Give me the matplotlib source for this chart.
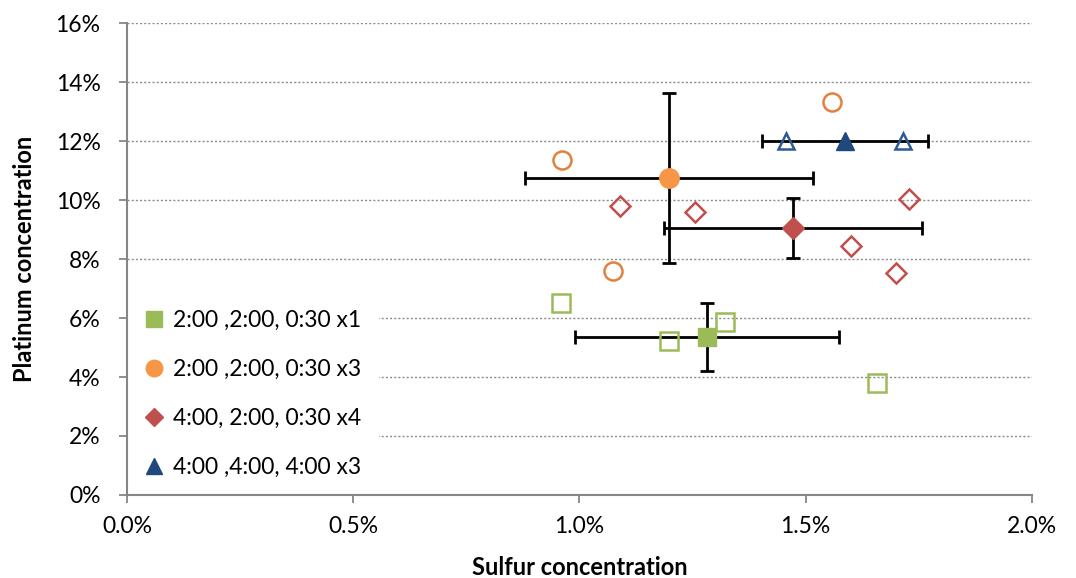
import matplotlib
matplotlib.use("Agg")
import matplotlib.pyplot as plt
from matplotlib.ticker import FuncFormatter, MultipleLocator

plt.rcParams['font.family'] = ['Lato', 'DejaVu Sans']

# concentrations in percent
labels = ["2:00 ,2:00, 0:30 x1", "2:00 ,2:00, 0:30 x3", "4:00, 2:00, 0:30 x4", "4:00 ,4:00, 4:00 x3"]
markers = ["s", "o", "D", "^"]
fill_colors = ["#9BBB59", "#F79646", "#C0504D", "#1F497D"]
edge_colors = ["#9BBB59", "#E3803C", "#C0504D", "#2C5A94"]

# individual samples (open markers)
s_x1 = [0.959, 1.198, 1.322, 1.657]
pt_x1 = [6.51, 5.22, 5.86, 3.80]
s_x3 = [0.961, 1.074, 1.558]
pt_x3 = [11.36, 7.59, 13.32]
s_x4 = [1.089, 1.255, 1.600, 1.699, 1.728]
pt_x4 = [9.80, 9.59, 8.44, 7.53, 10.03]
s_44 = [1.456, 1.715]
pt_44 = [12.0, 12.0]

# means with std errors (filled markers)
mean_s = [1.282, 1.198, 1.472, 1.587]
mean_pt = [5.36, 10.75, 9.05, 12.0]
err_s = [0.292, 0.318, 0.286, 0.183]
err_pt = [1.15, 2.88, 1.03, 0.0]

samples_s = [s_x1, s_x3, s_x4, s_44]
samples_pt = [pt_x1, pt_x3, pt_x4, pt_44]

fig = plt.figure(figsize=(10.76, 5.78), dpi=100)
ax = fig.add_axes([0.118, 0.1436, 0.841, 0.8166])

msz = [13.5, 14, 11, 13]
for i in range(4):
    ax.plot(samples_s[i], samples_pt[i], ls="none", marker=markers[i], ms=msz[i] - 1,
            mfc="none", mec=edge_colors[i], mew=1.8, zorder=3)
    yerr = err_pt[i] if err_pt[i] > 0 else None
    ax.errorbar(mean_s[i], mean_pt[i], xerr=err_s[i], yerr=yerr, fmt="none",
                ecolor="black", elinewidth=2.0, capsize=5, capthick=2.0, zorder=2)
    ax.plot(mean_s[i], mean_pt[i], ls="none", marker=markers[i], ms=msz[i],
            mfc=fill_colors[i], mec=fill_colors[i], label=labels[i], zorder=4)

ax.set_xlim(0, 2.0)
ax.set_ylim(0, 16)
ax.xaxis.set_major_locator(MultipleLocator(0.5))
ax.yaxis.set_major_locator(MultipleLocator(2))
ax.xaxis.set_major_formatter(FuncFormatter(lambda v, p: f"{v:.1f}%"))
ax.yaxis.set_major_formatter(FuncFormatter(lambda v, p: f"{v:.0f}%"))

ax.grid(axis="y", ls=(0, (1.5, 1.5)), color="#8C8C8C", lw=1.0)
ax.set_axisbelow(True)
gl = ax.get_ygridlines()
gl[0].set_visible(False)
gl[-1].set_visible(False)
for side in ["top", "right"]:
    ax.spines[side].set_visible(False)
for side in ["left", "bottom"]:
    ax.spines[side].set_color("#868686")
    ax.spines[side].set_linewidth(1.5)
ax.tick_params(axis="both", direction="out", length=6, width=1.3, color="#868686",
               labelsize=16.5)
ax.tick_params(axis="x", pad=9)
ax.tick_params(axis="y", pad=13)

ax.set_xlabel("Sulfur concentration", fontsize=17, fontweight="bold", labelpad=14)
ax.set_ylabel("Platinum concentration", fontsize=17, fontweight="bold", labelpad=14)

# white legend box hides the gridlines behind it, spines stay on top
leg = ax.legend(loc="lower left", bbox_to_anchor=(-0.012, -0.024), fontsize=16.5,
                frameon=True, fancybox=False, edgecolor="none", facecolor="white",
                framealpha=1.0, handlelength=0.8, handletextpad=0.45, labelspacing=1.22,
                borderpad=0.75, markerscale=0.85)
leg.set_zorder(2.4)

fig.savefig("out.png", dpi=100, facecolor="white")
